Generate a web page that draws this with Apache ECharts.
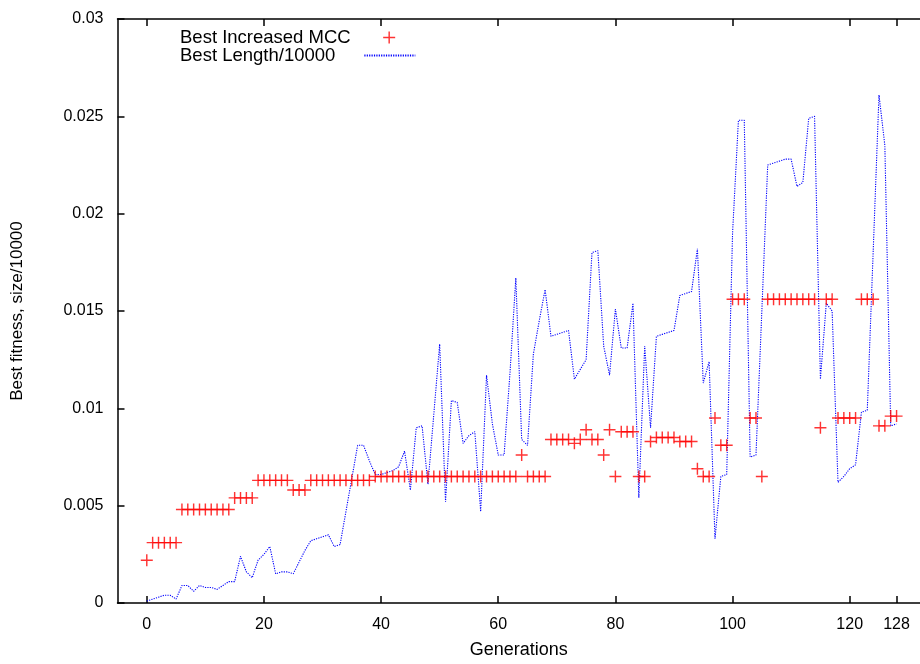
<!DOCTYPE html>
<html>
<head>
<meta charset="utf-8">
<script src="https://cdn.jsdelivr.net/npm/echarts@6/dist/echarts.min.js"></script>
<style>
  html, body { margin: 0; padding: 0; background: #fff; }
  #chart { width: 920px; height: 664px; }
</style>
</head>
<body>
<div id="chart"></div>
<script>
// generations 0..128
const generations = Array.from({ length: 129 }, (_, i) => i);

// best increased MCC, one value per generation
const mccValues = [
  0.0022,
  0.0031, 0.0031, 0.0031, 0.0031, 0.0031,
  0.0048, 0.0048, 0.0048, 0.0048, 0.0048, 0.0048, 0.0048, 0.0048, 0.0048,
  0.0054, 0.0054, 0.0054, 0.0054,
  0.0063, 0.0063, 0.0063, 0.0063, 0.0063, 0.0063,
  0.0058, 0.0058, 0.0058,
  0.0063, 0.0063, 0.0063, 0.0063, 0.0063, 0.0063, 0.0063, 0.0063, 0.0063, 0.0063, 0.0063,
  0.0065, 0.0065, 0.0065, 0.0065, 0.0065, 0.0065, 0.0065, 0.0065, 0.0065, 0.0065,
  0.0065, 0.0065, 0.0065, 0.0065, 0.0065, 0.0065, 0.0065, 0.0065, 0.0065, 0.0065,
  0.0065, 0.0065, 0.0065, 0.0065, 0.0065,
  0.0076,
  0.0065, 0.0065, 0.0065, 0.0065,
  0.0084, 0.0084, 0.0084, 0.0084,
  0.0082, 0.0084, 0.0089, 0.0084, 0.0084, 0.0076, 0.0089, 0.0065,
  0.0088, 0.0088, 0.0088,
  0.0065, 0.0065,
  0.0083, 0.0085, 0.0085, 0.0085, 0.0085,
  0.0083, 0.0083, 0.0083,
  0.0069, 0.0065, 0.0065, 0.0095, 0.0081, 0.0081,
  0.0156, 0.0156, 0.0156,
  0.0095, 0.0095, 0.0065,
  0.0156, 0.0156, 0.0156, 0.0156, 0.0156, 0.0156, 0.0156, 0.0156, 0.0156,
  0.0090, 0.0156, 0.0156,
  0.0095, 0.0095, 0.0095, 0.0095,
  0.0156, 0.0156, 0.0156,
  0.0091, 0.0091, 0.0096, 0.0096
];

// best length / 10000, one value per generation
const lengthValues = [
  0.0001, 0.0002, 0.0003, 0.0004, 0.0004, 0.0002, 0.0009, 0.0009, 0.0006, 0.0009,
  0.0008, 0.0008, 0.0007, 0.0009, 0.0011, 0.0011, 0.0024, 0.0016, 0.0013, 0.0022,
  0.0025, 0.0029, 0.0015, 0.0016, 0.0016, 0.0015, 0.0021, 0.0027, 0.0032, 0.0033,
  0.0034, 0.0035, 0.0029, 0.0030, 0.0047, 0.0064, 0.0081, 0.0081, 0.0073, 0.0066,
  0.0066, 0.0067, 0.0068, 0.0070, 0.0078, 0.0058, 0.0090, 0.0091, 0.0061, 0.0097,
  0.0133, 0.0052, 0.0104, 0.0103, 0.0082, 0.0086, 0.0088, 0.0047, 0.0117, 0.0092,
  0.0076, 0.0076, 0.0118, 0.0167, 0.0084, 0.0081, 0.0128, 0.0145, 0.0161, 0.0137,
  0.0138, 0.0139, 0.0140, 0.0115, 0.0120, 0.0125, 0.0180, 0.0181, 0.0132, 0.0117,
  0.0151, 0.0131, 0.0131, 0.0154, 0.0054, 0.0132, 0.0090, 0.0137, 0.0138, 0.0139,
  0.0140, 0.0158, 0.0159, 0.0160, 0.0182, 0.0113, 0.0124, 0.0033, 0.0065, 0.0066,
  0.0190, 0.0248, 0.0248, 0.0075, 0.0076, 0.0150, 0.0225, 0.0226, 0.0227, 0.0228,
  0.0228, 0.0214, 0.0216, 0.0249, 0.0250, 0.0115, 0.0154, 0.0150, 0.0062, 0.0065,
  0.0069, 0.0071, 0.0098, 0.0099, 0.0180, 0.0261, 0.0235, 0.0091, 0.0092
];

const xTickValues = [0, 20, 40, 60, 80, 100, 120, 128];
const yTickLabels = ['0', '0.005', '0.01', '0.015', '0.02', '0.025', '0.03'];

const FONT = 'Liberation Sans';
const PLUS = 'path://M0,4.4H10V5.6H0Z M4.4,0H5.6V10H4.4Z';
const AXIS = { color: '#000', width: 1.5 };

// gnuplot style key: text left, sample on the right
const keyLegend = (name, top, padRight, extra) => Object.assign({
  orient: 'vertical',
  left: 180,
  top: top,
  padding: 0,
  align: 'right',
  itemWidth: 51,
  itemHeight: 12,
  textStyle: {
    fontFamily: FONT, fontSize: 18.5, color: '#000',
    lineHeight: 18, padding: [0, padRight, 0, 0]
  }
}, extra(name));

const chart = echarts.init(document.getElementById('chart'));

const option = {
  animation: false,
  backgroundColor: '#fff',
  textStyle: { fontFamily: FONT },
  grid: { left: 117.5, right: -4, top: 19, bottom: 55 },
  legend: [
    keyLegend('Best Increased MCC', 28, 8, (n) => ({ data: [{ name: n, icon: PLUS }] })),
    keyLegend('Best Length/10000', 46, 24, (n) => ({ data: [{ name: n, itemStyle: { opacity: 0 } }] }))
  ],
  xAxis: [
    {
      type: 'value',
      position: 'bottom',
      min: -5,
      max: 132,
      name: 'Generations',
      nameLocation: 'middle',
      nameGap: 38,
      nameTextStyle: { fontFamily: FONT, fontSize: 18, color: '#000' },
      axisLine: { onZero: false, lineStyle: AXIS },
      axisTick: { inside: true, length: 7, customValues: xTickValues, lineStyle: AXIS },
      axisLabel: { customValues: xTickValues, fontFamily: FONT, fontSize: 16, color: '#000', margin: 14 },
      splitLine: { show: false }
    },
    {
      type: 'value',
      position: 'top',
      min: -5,
      max: 132,
      axisLine: { onZero: false, lineStyle: AXIS },
      axisTick: { inside: true, length: 7, customValues: xTickValues, lineStyle: AXIS },
      axisLabel: { show: false },
      splitLine: { show: false }
    }
  ],
  yAxis: {
    type: 'value',
    min: 0,
    max: 0.03,
    interval: 0.005,
    name: 'Best fitness, size/10000',
    nameLocation: 'middle',
    nameGap: 92,
    nameTextStyle: { fontFamily: FONT, fontSize: 17, color: '#000' },
    axisLine: { show: true, onZero: false, lineStyle: AXIS },
    axisTick: { show: true, inside: true, length: 7, lineStyle: AXIS },
    axisLabel: {
      fontFamily: FONT, fontSize: 16, color: '#000', margin: 14,
      formatter: (v) => yTickLabels[Math.round(v / 0.005)]
    },
    splitLine: { show: false }
  },
  series: [
    {
      name: 'Best Length/10000',
      type: 'line',
      data: generations.map((g, i) => [g, lengthValues[i]]),
      symbol: 'none',
      lineStyle: { color: '#0000ff', width: 1.1, type: [1.2, 1.2] },
      itemStyle: { color: '#0000ff' },
      z: 2
    },
    {
      name: 'Best Increased MCC',
      type: 'scatter',
      data: generations.map((g, i) => [g, mccValues[i]]),
      symbol: PLUS,
      symbolSize: 12,
      itemStyle: { color: '#ff0000' },
      z: 3
    }
  ]
};

chart.setOption(option);
</script>
</body>
</html>
